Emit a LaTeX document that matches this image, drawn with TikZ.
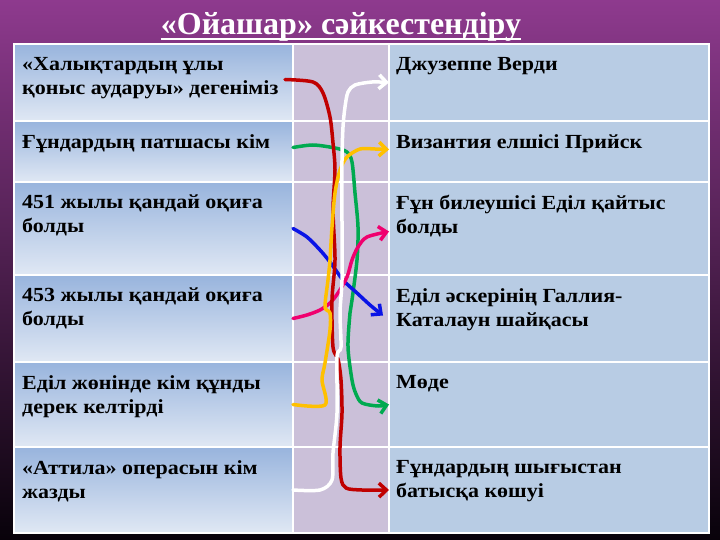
\documentclass[tikz,border=0pt]{standalone}
\usepackage{fontspec}
\setmainfont{Liberation Serif}
\newfontfamily\cellfont[FakeStretch=1.1]{Liberation Serif}
\usetikzlibrary{positioning, arrows.meta}

\definecolor{bgtop}{RGB}{142,58,142}
\definecolor{bgmid}{RGB}{88,36,90}
\definecolor{bgbot}{RGB}{8,2,10}
\definecolor{qtop}{RGB}{152,180,221}
\definecolor{qbot}{RGB}{224,232,244}
\definecolor{midcol}{RGB}{203,192,217}
\definecolor{anscol}{RGB}{184,204,228}
\definecolor{lred}{RGB}{192,0,0}
\definecolor{lgreen}{RGB}{0,170,80}
\definecolor{lyellow}{RGB}{255,192,0}
\definecolor{lblue}{RGB}{10,20,230}
\definecolor{lpink}{RGB}{240,0,110}

\begin{document}
\begin{tikzpicture}[x=1pt, y=-1pt,
    cell/.style={draw=white, line width=1.2pt, rectangle, inner sep=0pt, outer sep=0pt},
    qcell/.style={cell, top color=qtop, bottom color=qbot, minimum width=279pt},
    mcell/.style={cell, fill=midcol, minimum width=96pt},
    acell/.style={cell, fill=anscol, minimum width=320pt},
    celltext/.style={inner sep=0pt, align=left, font=\cellfont\fontsize{20}{24}\selectfont\bfseries},
    link/.style={line width=3.5pt, line cap=round, line join=round, -{Straight Barb[length=7.5pt, width=14pt]}}]
    % background
    \fill[top color=bgtop, middle color=bgmid, bottom color=bgbot] (0,0) rectangle (720,540);
    \node[anchor=base, inner sep=0pt, text=white, font=\fontsize{32}{36}\selectfont\bfseries] (head) at (341,35) {«Ойашар» сәйкестендіру};
    \draw[white, line width=1.6pt] ([yshift=-4pt]head.base west) -- ([yshift=-4pt]head.base east);

    % rows
    \node[qcell, minimum height=77pt, anchor=north west] (q1) at (14,44) {};
    \node[qcell, minimum height=61pt, below=0pt of q1] (q2) {};
    \node[qcell, minimum height=93pt, below=0pt of q2] (q3) {};
    \node[qcell, minimum height=87pt, below=0pt of q3] (q4) {};
    \node[qcell, minimum height=85pt, below=0pt of q4] (q5) {};
    \node[qcell, minimum height=86pt, below=0pt of q5] (q6) {};
    \node[mcell, minimum height=77pt, right=0pt of q1] (m1) {};
    \node[mcell, minimum height=61pt, right=0pt of q2] (m2) {};
    \node[mcell, minimum height=93pt, right=0pt of q3] (m3) {};
    \node[mcell, minimum height=87pt, right=0pt of q4] (m4) {};
    \node[mcell, minimum height=85pt, right=0pt of q5] (m5) {};
    \node[mcell, minimum height=86pt, right=0pt of q6] (m6) {};
    \node[acell, minimum height=77pt, right=0pt of m1] (a1) {};
    \node[acell, minimum height=61pt, right=0pt of m2] (a2) {};
    \node[acell, minimum height=93pt, right=0pt of m3] (a3) {};
    \node[acell, minimum height=87pt, right=0pt of m4] (a4) {};
    \node[acell, minimum height=85pt, right=0pt of m5] (a5) {};
    \node[acell, minimum height=86pt, right=0pt of m6] (a6) {};

    % questions
    \node[celltext, below right=13pt and 8pt of q1.north west] (qt1) {«Халықтардың ұлы\\қоныс аударуы» дегеніміз};
    \node[celltext, below right=13pt and 8pt of q2.north west] (qt2) {Ғұндардың патшасы кім};
    \node[celltext, below right=13pt and 8pt of q3.north west] (qt3) {451 жылы қандай оқиға\\болды};
    \node[celltext, below right=13pt and 8pt of q4.north west] (qt4) {453 жылы қандай оқиға\\болды};
    \node[celltext, below right=13pt and 8pt of q5.north west] (qt5) {Еділ жөнінде кім құнды\\дерек келтірді};
    \node[celltext, below right=13pt and 8pt of q6.north west] (qt6) {«Аттила» операсын кім\\жазды};
    % answers
    \node[celltext, below right=13pt and 7pt of a1.north west] (at1) {Джузеппе Верди};
    \node[celltext, below right=13pt and 7pt of a2.north west] (at2) {Византия елшісі Прийск};
    \node[celltext, below right=13pt and 7pt of a3.north west] (at3) {Ғұн билеушісі Еділ қайтыс\\болды};
    \node[celltext, below right=13pt and 7pt of a4.north west] (at4) {Еділ әскерінің Галлия-\\Каталаун шайқасы};
    \node[celltext, below right=13pt and 7pt of a5.north west] (at5) {Мөде};
    \node[celltext, below right=13pt and 7pt of a6.north west] (at6) {Ғұндардың шығыстан\\батысқа көшуі};

    % matching lines
    \draw[link, lgreen] plot[smooth] coordinates {([yshift=4pt]q2.east) (313,145) (335,148) (347,152) (352,162) (355,193) (358,227) (357,260) (352,300) (350,313) (348,347) (352,380) (356,394) (362,403) (378,406) (a5.west)};
    \draw[link, lblue] plot[smooth] coordinates {(q3.east) (307,237) (320,250) (330,262) (343,280) (357,293) (370,305) ([xshift=-6pt, yshift=3pt]a4.west)};
    \draw[link, lpink] plot[smooth] coordinates {(q4.east) (307,315) (320,310) (330,303) (338,293) (347,277) (352,260) (358,247) (367,237) ([yshift=-3pt]a3.west)};
    \draw[link, lred] plot[smooth] coordinates {([xshift=-8pt, yshift=3pt]q1.east) (313,82) (323,93) (330,117) (333,143) (335,170) (333,210) (335,260) (332,300) (333,347) (338,359) (341,380) (342,413) (340,447) (341,478) (346,488) (362,490) (a6.west)};
    \draw[link, lyellow] plot[smooth] coordinates {(q5.east) (325,405) (322,380) (325,363) (330,330) (330,313) (325,307) (328,280) (330,260) (332,227) (335,193) (340,170) (347,157) (360,149) (375,149) ([yshift=2pt]a2.west)};
    \draw[link, white] plot[smooth] coordinates {(q6.east) (320,490) (332,480) (333,453) (337,413) (337,357) (341,347) (340,313) (342,280) (342,227) (342,160) (343,127) (345,107) (348,92) (355,85) (372,82) (a1.west)};
\end{tikzpicture}
\end{document}
